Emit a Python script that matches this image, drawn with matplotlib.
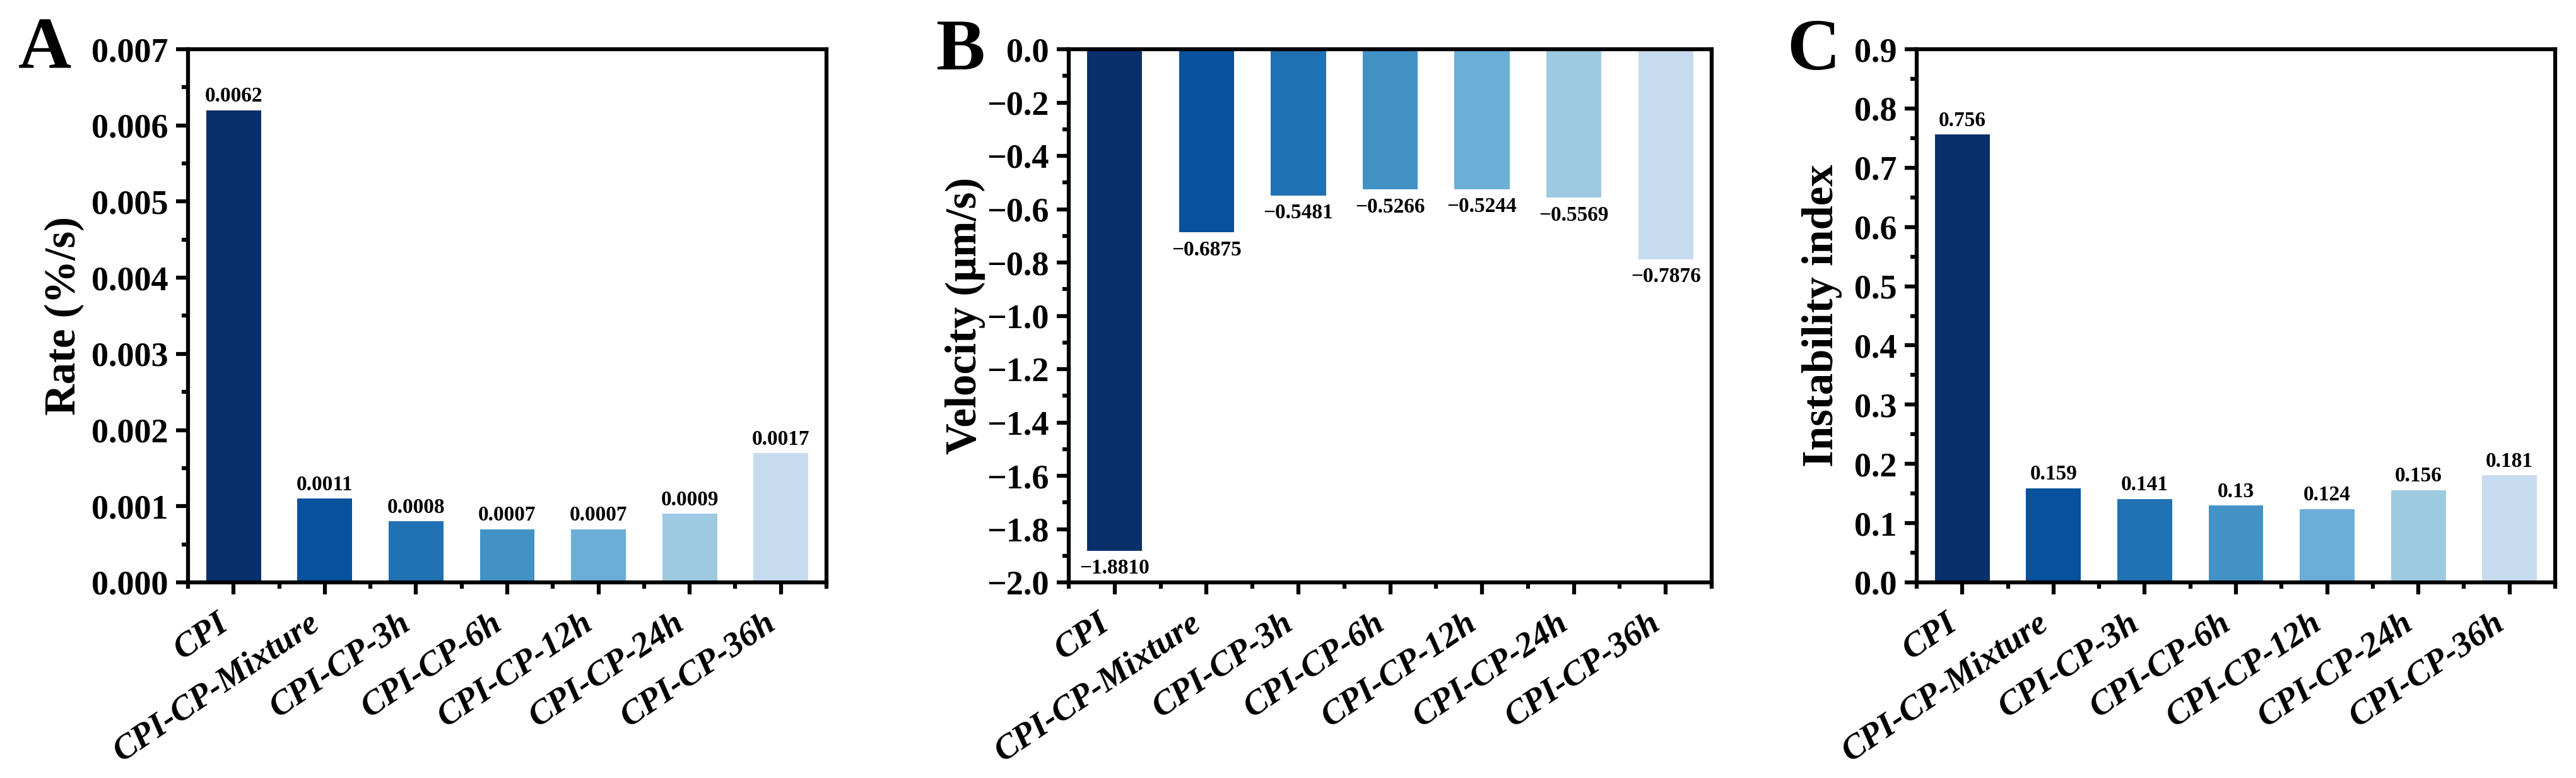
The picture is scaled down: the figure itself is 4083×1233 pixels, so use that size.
import numpy as np
import matplotlib
matplotlib.use('Agg')
from matplotlib import pyplot as plt
from matplotlib.ticker import MultipleLocator, FixedLocator

plt.rcParams['font.family'] = ['Liberation Serif', 'DejaVu Serif']
plt.rcParams['font.weight'] = 'bold'
plt.rcParams['axes.unicode_minus'] = True

# 数据
samples = ['CPI', 'CPI-CP-Mixture', 'CPI-CP-3h', 'CPI-CP-6h',
           'CPI-CP-12h', 'CPI-CP-24h', 'CPI-CP-36h']
rate = [0.0062, 0.0011, 0.0008, 0.0007, 0.0007, 0.0009, 0.0017]
velocity = [-1.8810, -0.6875, -0.5481, -0.5266, -0.5244, -0.5569, -0.7876]
instability = [0.756, 0.159, 0.141, 0.13, 0.124, 0.156, 0.181]
colors = ['#08306b', '#08519c', '#2171b5', '#4292c6', '#6baed6', '#9ecae1', '#c6dbef']

W, H = 4083, 1233
fig = plt.figure(figsize=(W / 300, H / 300), dpi=300)


def px_axes(x0, x1, y0, y1):
    return fig.add_axes([x0 / W, 1 - y1 / H, (x1 - x0) / W, (y1 - y0) / H])


def style_axes(ax, ylim, major, minor):
    x = np.arange(len(samples))
    ax.set_xlim(-0.5, len(samples) - 0.5)
    ax.set_ylim(*ylim)
    ax.yaxis.set_major_locator(MultipleLocator(major))
    ax.yaxis.set_minor_locator(MultipleLocator(minor))
    ax.xaxis.set_major_locator(FixedLocator(x))
    ax.xaxis.set_minor_locator(FixedLocator(np.arange(-0.5, len(samples), 1.0)))
    ax.set_xticklabels(samples, rotation=34, ha='right', fontsize=13.2,
                       fontweight='bold', fontstyle='italic')
    for lab in ax.get_yticklabels():
        lab.set_fontsize(13)
        lab.set_fontweight('bold')
    ax.tick_params(which='major', direction='out', length=4.5, width=1.5,
                   top=False, right=False, pad=3)
    ax.tick_params(which='minor', direction='out', length=2.5, width=1.5,
                   top=False, right=False)
    ax.tick_params(axis='x', which='major', pad=5)
    for s in ax.spines.values():
        s.set_linewidth(1.5)


# A
axA = px_axes(298, 1310, 78, 923)
x = np.arange(len(samples))
bars = axA.bar(x, rate, width=0.6, color=colors)
style_axes(axA, (0, 0.007), 0.001, 0.0005)
axA.yaxis.set_major_formatter(matplotlib.ticker.FormatStrFormatter('%.3f'))
for b, v in zip(bars, rate):
    axA.annotate(f'{v:.4f}', (b.get_x() + b.get_width() / 2, v),
                 xytext=(0, 1.5), textcoords='offset points',
                 ha='center', va='bottom', fontsize=8, fontweight='bold')
axA.set_ylabel('Rate (%/s)', fontsize=16.5, fontweight='bold')
axA.yaxis.set_label_coords(-0.162, 0.5)

# B
axB = px_axes(1694, 2713, 78, 923)
bars = axB.bar(x, velocity, width=0.6, color=colors)
style_axes(axB, (-2.0, 0.0), 0.2, 0.1)
axB.yaxis.set_major_formatter(matplotlib.ticker.FuncFormatter(
    lambda v, p: f'{v:.1f}'.replace('-', '\u2212')))
for b, v in zip(bars, velocity):
    axB.annotate(f'{v:.4f}'.replace('-', '\u2212'),
                 (b.get_x() + b.get_width() / 2, v),
                 xytext=(0, -3), textcoords='offset points',
                 ha='center', va='top', fontsize=8, fontweight='bold')
axB.set_ylabel('Velocity (\u03bcm/s)', fontsize=16.5, fontweight='bold')
axB.yaxis.set_label_coords(-0.13, 0.5)

# C
axC = px_axes(3038, 4050, 78, 923)
bars = axC.bar(x, instability, width=0.6, color=colors)
style_axes(axC, (0, 0.9), 0.1, 0.05)
axC.yaxis.set_major_formatter(matplotlib.ticker.FormatStrFormatter('%.1f'))
for b, v in zip(bars, instability):
    axC.annotate(f'{v}', (b.get_x() + b.get_width() / 2, v),
                 xytext=(0, 1.5), textcoords='offset points',
                 ha='center', va='bottom', fontsize=8, fontweight='bold')
axC.set_ylabel('Instability index', fontsize=16.5, fontweight='bold')
axC.yaxis.set_label_coords(-0.117, 0.5)

# 面板字母
for letter, px, py in [('A', 29, 108), ('B', 1483, 110), ('C', 2832, 110)]:
    fig.text(px / W, 1 - py / H, letter, ha='left', va='baseline',
             fontsize=28, fontweight='bold')

fig.savefig('out.png', dpi=300)
